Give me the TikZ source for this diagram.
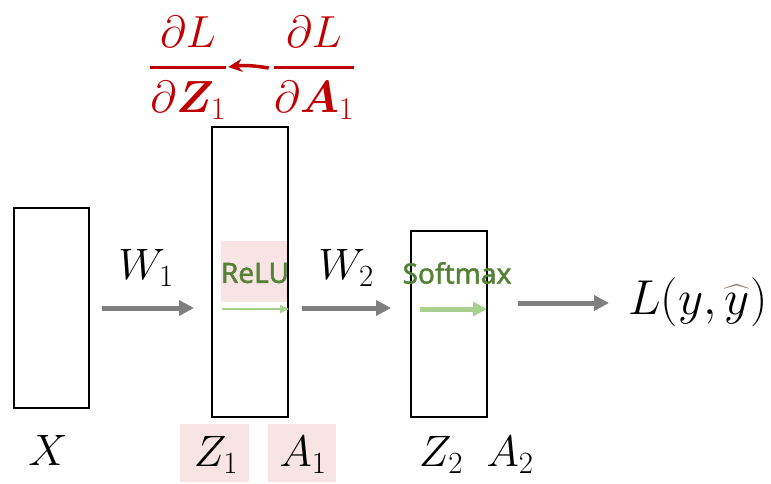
\RequirePackage{fix-cm}
\documentclass[tikz,border=0pt]{standalone}
\usepackage{amsmath,bm}
\usepackage{fontspec}
\newfontfamily\labelfont{Noto Sans}[FakeBold=1.6]
\usetikzlibrary{arrows.meta,calc}
\definecolor{arrgray}{HTML}{7F7F7F}
\definecolor{dred}{HTML}{C00000}
\definecolor{dgreen}{HTML}{548235}
\definecolor{lgreen}{HTML}{A9D18E}
\definecolor{lpink}{HTML}{F8E4E4}
\definecolor{hatc}{HTML}{8C6A6A}
\tikzset{
  layer/.style={draw=black, line width=2pt, fill=none, inner sep=0pt},
  flow/.style={draw=arrgray, line width=5pt, -{Triangle[length=15pt,width=15pt]}},
  mathlbl/.style={font=\fontsize{44}{50}\selectfont, inner sep=0pt},
  actlbl/.style={font=\labelfont\fontsize{28}{32}\selectfont\bfseries, text=dgreen, inner sep=0pt},
  pinkbg/.style={fill=lpink, draw=none, inner sep=0pt},
  grad/.style={font=\fontsize{45}{50}\selectfont, text=dred, inner sep=0pt, anchor=base},
}
\begin{document}
\begin{tikzpicture}[x=1pt,y=-1pt]
\useasboundingbox (0,0) rectangle (771,483);
% pink backgrounds
\node[pinkbg, minimum width=68pt, minimum height=61pt] (relubg) at (255,271.5) {};
\node[pinkbg, minimum width=69pt, minimum height=58pt] (z1bg) at (214.5,453) {};
\node[pinkbg, minimum width=68pt, minimum height=58pt] (a1bg) at (302,453) {};
% boxes
\node[layer, minimum width=75pt, minimum height=200pt] (bx) at (51.5,308) {};
\node[layer, minimum width=76pt, minimum height=290pt] (b1) at (250,272) {};
\node[layer, minimum width=76pt, minimum height=186pt] (b2) at (449,324) {};
% labels
\node[mathlbl] (lx) at (48,450) {$X$};
\node[mathlbl] (lz1) at (216,455) {$Z_1$};
\node[mathlbl] (la1) at (303,455) {$A_1$};
\node[mathlbl] (lz2) at (441,455) {$Z_2$};
\node[mathlbl] (la2) at (510,455) {$A_2$};
\node[mathlbl] (w1) at (146,268) {$W_1$};
\node[mathlbl] (w2) at (346,268) {$W_2$};
\node[mathlbl, font=\fontsize{49}{54}\selectfont, anchor=west] (loss) at (628,302) {$L(y,{\color{hatc}\widehat{\color{black}y}})$};
% activations
\node[actlbl] (relu) at (255,273) {ReLU};
\node[actlbl] (smax) at (457,273) {Softmax};
\coordinate (r1) at (222,309);
\coordinate (r2) at (289,309);
\draw[draw=lgreen, line width=2pt, -{Triangle[length=9pt,width=8pt]}] (r1) -- (r2);
\coordinate (s1) at (420,309);
\coordinate (s2) at (487,309);
\draw[draw=lgreen, line width=5pt, -{Triangle[length=14pt,width=14pt]}] (s1) -- (s2);
% flow arrows
\coordinate (f1s) at (102,308);
\coordinate (f1e) at (194,308);
\coordinate (f2s) at (302,308);
\coordinate (f2e) at (391,308);
\coordinate (f3s) at (518,303);
\coordinate (f3e) at (609,303);
\draw[flow] (f1s) -- (f1e);
\draw[flow] (f2s) -- (f2e);
\draw[flow] (f3s) -- (f3e);
% gradients
\node[grad] (gz) at (188,79) {$\genfrac{}{}{2.6pt}{0}{\partial L\rule[-11pt]{0pt}{0pt}}{\rule{0pt}{36pt}\partial \bm{Z}_1}$};
\node[grad] (ga) at (314,79) {$\genfrac{}{}{2.6pt}{0}{\partial L\rule[-11pt]{0pt}{0pt}}{\rule{0pt}{36pt}\partial \bm{A}_1}$};
\draw[draw=dred, line width=3.5pt, -{Stealth[length=14pt,width=13pt]}] ($(ga.base west)+(-4,-11)$) to[bend right=8] ($(gz.base east)+(1,-12)$);
\end{tikzpicture}
\end{document}
